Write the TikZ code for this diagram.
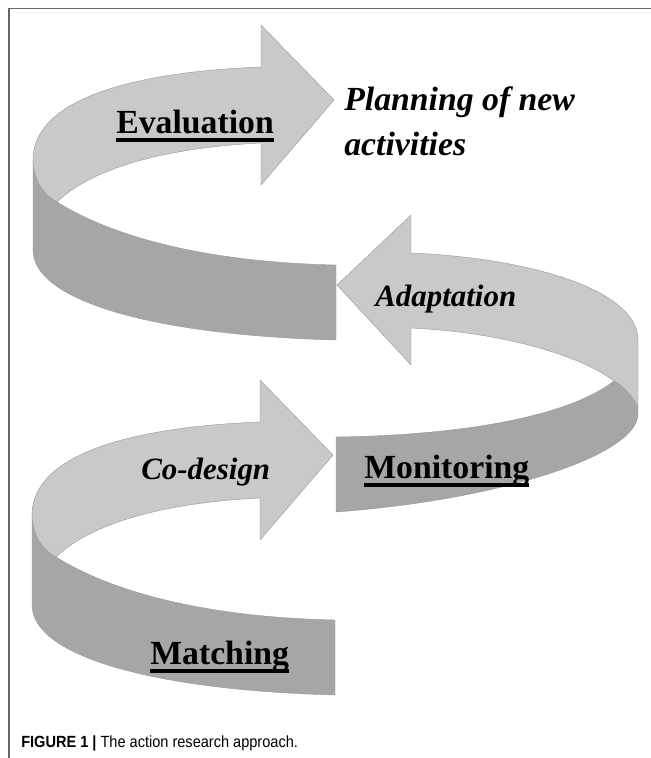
\documentclass[tikz,border=0pt]{standalone}
\usepackage{fontspec}
\setmainfont{Liberation Serif}
\newfontfamily\capfont[FakeStretch=0.9]{Liberation Sans}
\definecolor{bandlight}{gray}{0.79}
\definecolor{banddark}{gray}{0.65}
\definecolor{bandedge}{gray}{0.6}
\newsavebox{\labelbox}
\newcommand{\thickul}[1]{\sbox{\labelbox}{#1}\rlap{\rule[-6.2pt]{\wd\labelbox}{2.4pt}}\usebox{\labelbox}}

\begin{document}
\begin{tikzpicture}[
  x=0.025cm, y=-0.025cm,
  lightface/.style={fill=bandlight, draw=bandedge, line width=0.3pt, line join=round},
  darkface/.style={fill=banddark, draw=bandedge, line width=0.3pt, line join=round},
  stage/.style={anchor=base west, inner sep=0pt, font=\fontsize{24}{29}\selectfont\bfseries},
  action/.style={anchor=base west, inner sep=0pt, font=\fontsize{22}{26}\selectfont\bfseries\itshape},
  frame/.style={draw=black!60, line width=0.9pt},
]
  \useasboundingbox (0,0) rectangle (651,758);
  \draw[frame] (9,758) -- (9,8.5) -- (651,8.5);

  % left-hand loops (evaluation on top, matching below)
  \foreach \dx/\dy in {0/0, -1/355} {
    \begin{scope}[shift={(\dx,\dy)}]
      \path[darkface] (33,160) .. controls (34,182) and (44,195) .. (57,202)
        .. controls (110,235) and (200,262) .. (336,265)
        -- (336,340)
        .. controls (150,335) and (33,300) .. (33,250) -- cycle;
      \path[lightface] (57,202) .. controls (90,170) and (160,148) .. (261,143)
        -- (261,185) -- (334,100) -- (261,25) -- (261,67)
        .. controls (130,72) and (33,100) .. (33,160)
        .. controls (34,182) and (44,195) .. (57,202) -- cycle;
    \end{scope}
  }

  % right-hand loop (adaptation / monitoring)
  \path[darkface] (614,381) .. controls (622,385) and (632,395) .. (638,407)
    -- (638,414)
    .. controls (638,455) and (500,500) .. (336,512)
    -- (336,437)
    .. controls (470,435) and (570,415) .. (614,381) -- cycle;
  \path[lightface] (614,381) .. controls (580,355) and (500,332) .. (411,328)
    -- (411,365) -- (337,285) -- (411,215) -- (411,253)
    .. controls (530,258) and (638,290) .. (638,340)
    -- (638,407)
    .. controls (632,395) and (622,385) .. (614,381) -- cycle;

  \node[stage] (evaluation) at (116,133) {\thickul{Evaluation}};
  \node[action, font=\fontsize{24}{29}\selectfont\bfseries\itshape] (planning) at (344,110) {Planning of new};
  \node[action, font=\fontsize{24}{29}\selectfont\bfseries\itshape] (activities) at (344,155) {activities};
  \node[action] (adaptation) at (375,306) {Adaptation};
  \node[action] (codesign) at (141,479) {Co-design};
  \node[stage] (monitoring) at (364,478) {\thickul{Monitoring}};
  \node[stage] (matching) at (150,664) {\thickul{Matching}};

  \node[anchor=base west, inner sep=0pt, font=\capfont\fontsize{11.5}{14}\selectfont] (caption) at (21,747)
    {\textbf{FIGURE 1 |} The action research approach.};
\end{tikzpicture}
\end{document}
